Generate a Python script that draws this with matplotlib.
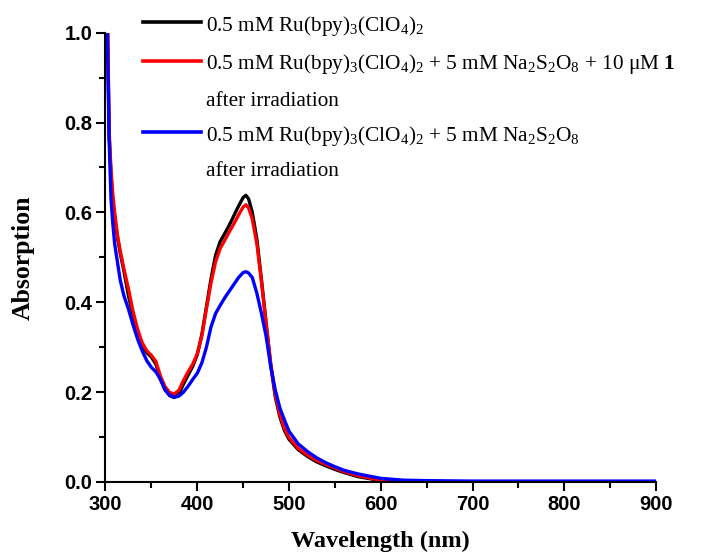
import matplotlib
matplotlib.use("Agg")
import matplotlib.pyplot as plt
from matplotlib.lines import Line2D
from matplotlib.ticker import MultipleLocator

wavelength = [300, 302, 304, 306, 308, 310, 313, 316, 320, 325, 330, 335, 340, 345, 350,
              355, 360, 365, 370, 375, 380, 385, 390, 395, 400, 405, 410, 415, 420, 425,
              430, 435, 440, 445, 450, 453, 456, 460, 465, 470, 475, 480, 485, 490, 495,
              500, 510, 520, 530, 540, 550, 560, 575, 600, 625, 650, 700, 750, 800, 850, 900]

abs_ru = [1.40, 1.04, 0.77, 0.685, 0.625, 0.59, 0.545, 0.51, 0.47, 0.415, 0.372, 0.335, 0.305, 0.288, 0.278,
          0.262, 0.228, 0.205, 0.192, 0.188, 0.196, 0.218, 0.238, 0.257, 0.283, 0.328, 0.39, 0.452, 0.505, 0.535,
          0.553, 0.572, 0.593, 0.614, 0.633, 0.638, 0.630, 0.600, 0.540, 0.450, 0.355, 0.262, 0.190, 0.145, 0.115,
          0.095, 0.072, 0.057, 0.045, 0.036, 0.028, 0.021, 0.012, 0.003, 0.001, 0.0, 0.0, 0.0, 0.0, 0.0, 0.0]

abs_ru_cat = [1.45, 1.08, 0.78, 0.695, 0.64, 0.60, 0.55, 0.515, 0.475, 0.43, 0.38, 0.34, 0.31, 0.292, 0.282,
              0.268, 0.235, 0.212, 0.199, 0.196, 0.204, 0.226, 0.245, 0.262, 0.285, 0.325, 0.385, 0.443, 0.49, 0.52,
              0.538, 0.557, 0.575, 0.594, 0.612, 0.617, 0.61, 0.585, 0.53, 0.445, 0.353, 0.265, 0.195, 0.150, 0.120,
              0.099, 0.075, 0.060, 0.048, 0.039, 0.031, 0.023, 0.014, 0.004, 0.002, 0.001, 0.0, 0.0, 0.0, 0.0, 0.0]

abs_ru_pers = [1.40, 1.00, 0.76, 0.63, 0.575, 0.53, 0.49, 0.45, 0.415, 0.385, 0.35, 0.318, 0.292, 0.27, 0.255,
               0.245, 0.228, 0.205, 0.193, 0.189, 0.191, 0.200, 0.213, 0.228, 0.242, 0.265, 0.300, 0.345, 0.375, 0.393,
               0.410, 0.425, 0.440, 0.455, 0.466, 0.468, 0.465, 0.455, 0.420, 0.375, 0.325, 0.258, 0.205, 0.165, 0.138,
               0.113, 0.085, 0.068, 0.054, 0.043, 0.034, 0.026, 0.018, 0.008, 0.004, 0.003, 0.002, 0.002, 0.002, 0.002, 0.002]

labels = [[r'0.5 mM Ru(bpy)$_3$(ClO$_4$)$_2$'],
          [r'0.5 mM Ru(bpy)$_3$(ClO$_4$)$_2$ + 5 mM Na$_2$S$_2$O$_8$ + 10 μM $\mathbf{1}$', 'after irradiation'],
          [r'0.5 mM Ru(bpy)$_3$(ClO$_4$)$_2$ + 5 mM Na$_2$S$_2$O$_8$', 'after irradiation']]
colors = ['#000000', '#ff0000', '#0000ff']

plt.rcParams['mathtext.fontset'] = 'custom'
plt.rcParams['mathtext.rm'] = 'Liberation Serif'
plt.rcParams['mathtext.it'] = 'Liberation Serif:italic'
plt.rcParams['mathtext.bf'] = 'Liberation Serif:bold'

fig = plt.figure(figsize=(7.26, 5.54), dpi=100)
ax = fig.add_axes([0.1453, 0.13, 0.7583, 0.811])

for ys, c in zip([abs_ru, abs_ru_cat, abs_ru_pers], colors):
    ax.plot(wavelength, ys, color=c, lw=2.4)

ax.set_xlim(300, 900)
ax.set_ylim(0, 1.0)
ax.xaxis.set_major_locator(MultipleLocator(100))
ax.xaxis.set_minor_locator(MultipleLocator(50))
ax.yaxis.set_major_locator(MultipleLocator(0.2))
ax.yaxis.set_minor_locator(MultipleLocator(0.1))
ax.spines['top'].set_visible(False)
ax.spines['right'].set_visible(False)
for s in ['left', 'bottom']:
    ax.spines[s].set_linewidth(1.5)
ax.tick_params(which='major', direction='out', length=6.5, width=1.5, pad=3)
ax.tick_params(which='minor', direction='out', length=4, width=1.5)
ax.set_yticklabels([f'{v:.1f}' for v in ax.get_yticks()])
for lab in ax.get_xticklabels() + ax.get_yticklabels():
    lab.set_fontfamily(['Liberation Sans Narrow', 'Liberation Sans'])
    lab.set_fontweight('bold')
    lab.set_fontsize(14.5)

ax.set_xlabel('Wavelength (nm)', fontfamily='Liberation Serif', fontweight='bold', fontsize=17.5, labelpad=12)
ax.set_ylabel('Absorption', fontfamily='Liberation Serif', fontweight='bold', fontsize=18.5, labelpad=21)

# legend drawn manually
W, H = 726, 554
line_rows = [22, 61, 132]
text_rows = [[22], [61, 99], [132, 169]]
for ly, trows, c, labs in zip(line_rows, text_rows, colors, labels):
    fig.add_artist(Line2D([143 / W, 201 / W], [1 - ly / H, 1 - ly / H], color=c, lw=2.6))
    for ty, lab in zip(trows, labs):
        fig.text(206 / W, 1 - ty / H, lab, fontfamily='Liberation Serif', fontsize=15.3,
                 va='center_baseline', ha='left')

fig.savefig('out.png', dpi=100)
